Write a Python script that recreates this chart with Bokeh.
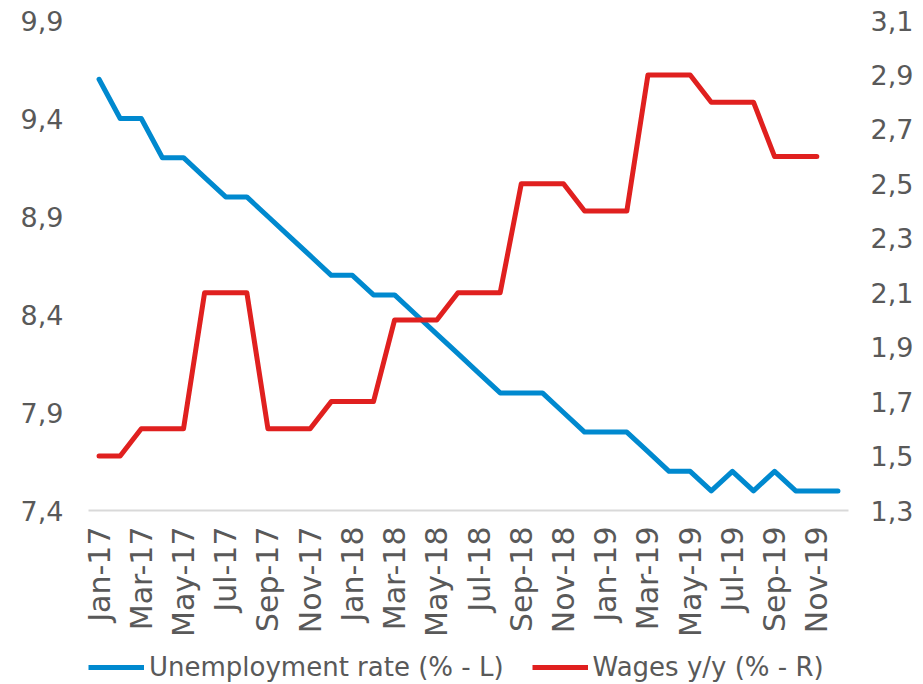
import math
from bokeh.plotting import figure
from bokeh.layouts import column
from bokeh.models import (Range1d, LinearAxis, FixedTicker, Legend, LegendItem,
                          CustomJSTickFormatter)
from bokeh.embed import file_html
from bokeh.resources import INLINE

# ---- data ----
months = ["Jan-17", "Feb-17", "Mar-17", "Apr-17", "May-17", "Jun-17", "Jul-17", "Aug-17",
          "Sep-17", "Oct-17", "Nov-17", "Dec-17", "Jan-18", "Feb-18", "Mar-18", "Apr-18",
          "May-18", "Jun-18", "Jul-18", "Aug-18", "Sep-18", "Oct-18", "Nov-18", "Dec-18",
          "Jan-19", "Feb-19", "Mar-19", "Apr-19", "May-19", "Jun-19", "Jul-19", "Aug-19",
          "Sep-19", "Oct-19", "Nov-19", "Dec-19"]
unemployment = [9.6, 9.4, 9.4, 9.2, 9.2, 9.1, 9.0, 9.0, 8.9, 8.8, 8.7, 8.6,
                8.6, 8.5, 8.5, 8.4, 8.3, 8.2, 8.1, 8.0, 8.0, 8.0, 7.9, 7.8,
                7.8, 7.8, 7.7, 7.6, 7.6, 7.5, 7.6, 7.5, 7.6, 7.5, 7.5, 7.5]
wages = [1.5, 1.5, 1.6, 1.6, 1.6, 2.1, 2.1, 2.1, 1.6, 1.6, 1.6, 1.7,
         1.7, 1.7, 2.0, 2.0, 2.0, 2.1, 2.1, 2.1, 2.5, 2.5, 2.5, 2.4,
         2.4, 2.4, 2.9, 2.9, 2.9, 2.8, 2.8, 2.8, 2.6, 2.6, 2.6]
left_ticks = [7.4, 7.9, 8.4, 8.9, 9.4, 9.9]
right_ticks = [1.3, 1.5, 1.7, 1.9, 2.1, 2.3, 2.5, 2.7, 2.9, 3.1]
series_names = ["Unemployment rate (% - L)", "Wages y/y (% - R)"]
label_every = 2

x_u = list(range(len(unemployment)))
x_w = list(range(len(wages)))

FONT = "DejaVu Sans"
GREY = "#595959"
BLUE = "#0089cf"
RED = "#e0201f"

p = figure(width=923, height=640, output_backend="svg", toolbar_location=None,
           x_range=Range1d(-0.5, len(months) - 0.5),
           y_range=Range1d(left_ticks[0], left_ticks[-1]),
           min_border_left=88, min_border_right=75, min_border_top=20,
           min_border_bottom=130, x_axis_type=None, y_axis_type=None)
p.extra_y_ranges = {"right": Range1d(right_ticks[0], right_ticks[-1])}
p.outline_line_color = None
p.xgrid.visible = False
p.ygrid.visible = False

fmt = CustomJSTickFormatter(code="return tick.toFixed(1).replace('.', ',');")

def style_axis(ax):
    ax.major_tick_line_color = None
    ax.minor_tick_line_color = None
    ax.major_tick_out = 0
    ax.major_tick_in = 0
    ax.minor_tick_out = 0
    ax.minor_tick_in = 0
    ax.major_label_text_font = FONT
    ax.major_label_text_color = GREY

xaxis = LinearAxis(ticker=FixedTicker(ticks=list(range(0, len(months), label_every))),
                   major_label_overrides={i: months[i] for i in range(0, len(months), label_every)})
style_axis(xaxis)
xaxis.major_label_orientation = math.pi / 2
xaxis.major_label_text_font_size = "30px"
xaxis.major_label_standoff = 16
xaxis.axis_line_color = "#d9d9d9"
xaxis.axis_line_width = 2
p.add_layout(xaxis, "below")

yl = LinearAxis(ticker=FixedTicker(ticks=left_ticks), formatter=fmt)
style_axis(yl)
yl.axis_line_color = None
yl.major_label_text_font_size = "27px"
yl.major_label_standoff = 25
p.add_layout(yl, "left")

yr = LinearAxis(ticker=FixedTicker(ticks=right_ticks), formatter=fmt, y_range_name="right")
style_axis(yr)
yr.axis_line_color = None
yr.major_label_text_font_size = "27px"
yr.major_label_standoff = 22
p.add_layout(yr, "right")

p.line(x_u, unemployment, line_color=BLUE, line_width=5,
       line_join="round", line_cap="round")
p.line(x_w, wages, line_color=RED, line_width=5, y_range_name="right",
       line_join="round", line_cap="round")

# ---- legend strip: a small figure whose only visible content is the legend ----
pl = figure(width=923, height=44, output_backend="svg", toolbar_location=None,
            x_range=Range1d(-0.5, len(months) - 0.5), y_range=Range1d(-2, -1),
            min_border_left=88, min_border_right=75, min_border_top=0,
            min_border_bottom=0, x_axis_type=None, y_axis_type=None)
pl.outline_line_color = None
pl.xgrid.visible = False
pl.ygrid.visible = False
# same series, kept outside the strip's view range: only their legend swatches show
l1 = pl.line(x_u, unemployment, line_color=BLUE, line_width=5)
l2 = pl.line(x_w, wages, line_color=RED, line_width=5)

legend = Legend(items=[LegendItem(label=series_names[0], renderers=[l1]),
                       LegendItem(label=series_names[1], renderers=[l2])],
                orientation="horizontal", location=(0, 2),
                label_text_font=FONT, label_text_font_size="26px",
                label_text_color=GREY, glyph_width=56, glyph_height=30,
                label_standoff=5, spacing=28, border_line_color=None,
                background_fill_alpha=0, padding=0, margin=0)
pl.add_layout(legend, "center")

layout = column(p, pl, spacing=0)
open("out.html", "w").write(file_html(layout, INLINE))
